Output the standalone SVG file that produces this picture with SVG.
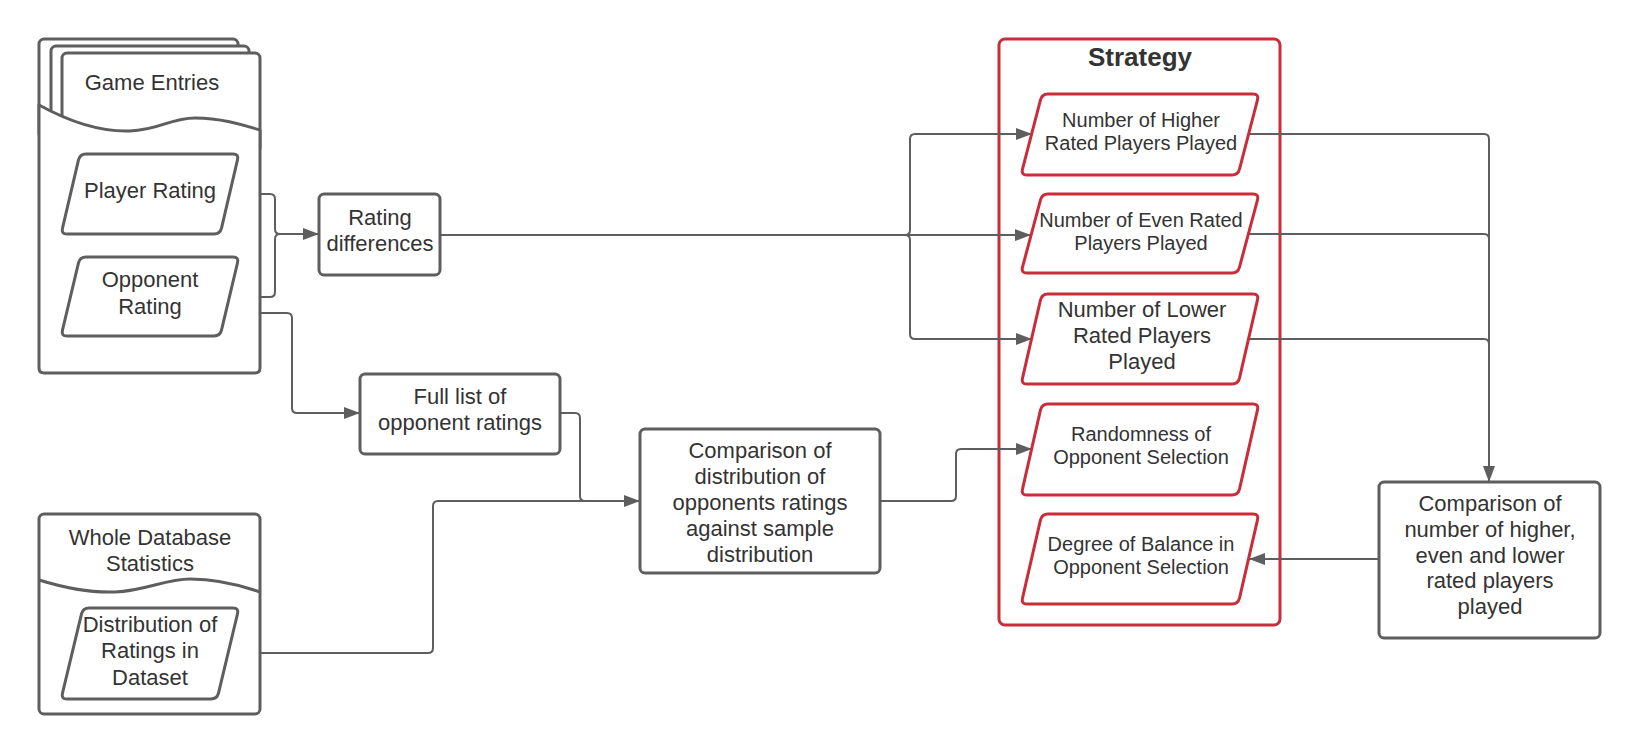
<svg xmlns="http://www.w3.org/2000/svg" width="1640" height="754" viewBox="0 0 1640 754">
<defs>
<style>
.sh{fill:#ffffff;stroke:#5e5e5e;stroke-width:3;stroke-linejoin:round}
.rd{fill:#ffffff;stroke:#c92d39;stroke-width:3;stroke-linejoin:round}
.cn{fill:none;stroke:#5e5e5e;stroke-width:2}
.ar{marker-end:url(#arr)}
text{font-family:"Liberation Sans",Arial,sans-serif;fill:#333333;text-anchor:middle}
.t22{font-size:22px}
.t20{font-size:20px}
.tb{font-size:26px;font-weight:bold}
</style>
<marker id="arr" markerUnits="userSpaceOnUse" markerWidth="16" markerHeight="12" refX="16" refY="6" orient="auto">
<path d="M0,0 L16,6 L0,12 Z" fill="#5e5e5e"/>
</marker>
</defs>
<rect width="1640" height="754" fill="#ffffff"/>

<g id="strategy">
<rect class="rd" x="999" y="39" width="281" height="586" rx="6"/>
<text class="tb" x="1140" y="66">Strategy</text>
</g>

<g id="connectors">
<path class="cn ar" d="M230,194 L270,194 Q275,194 275,199 L275,229 Q275,234 280,234 L319,234"/>
<path class="cn" d="M230,297 L270,297 Q275,297 275,292 L275,239 Q275,234 280,234"/>
<path class="cn ar" d="M226,313 L287,313 Q292,313 292,318 L292,408 Q292,413 297,413 L360,413"/>
<path class="cn ar" d="M560,413 L575,413 Q580,413 580,418 L580,496 Q580,501 585,501 L640,501"/>
<path class="cn" d="M228,653 L428,653 Q433,653 433,648 L433,506 Q433,501 438,501 L600,501"/>
<path class="cn ar" d="M440,235 L1031,235"/>
<path class="cn ar" d="M905,235 Q910,235 910,230 L910,139 Q910,134 915,134 L1032,134"/>
<path class="cn ar" d="M905,235 Q910,235 910,240 L910,334 Q910,339 915,339 L1032,339"/>
<path class="cn ar" d="M880,501 L951,501 Q956,501 956,496 L956,454 Q956,449 961,449 L1032,449"/>
<path class="cn ar" d="M1249,134 L1484,134 Q1489,134 1489,139 L1489,482"/>
<path class="cn" d="M1249,234 L1484,234 Q1489,234 1489,239"/>
<path class="cn" d="M1249,339 L1484,339 Q1489,339 1489,344"/>
<path class="cn ar" d="M1379,559 L1249,559"/>
</g>

<g id="game-entries">
<rect class="sh" x="39" y="39" width="199" height="100" rx="5"/>
<rect class="sh" x="51" y="46" width="198" height="100" rx="5"/>
<rect class="sh" x="62" y="53" width="198" height="100" rx="5"/>
<path class="sh" d="M39,105 C70,122 100,132 130,131 C160,130 170,118 195,118 C220,118 240,124 260,130 L260,368 Q260,373 255,373 L44,373 Q39,373 39,368 Z"/>
<text class="t22" x="152" y="90">Game Entries</text>
</g>

<g id="player-rating">
<path class="sh" d="M86,154 L233,154 Q239,154 237.5,159.8 L221.5,228.2 Q220,234 214,234 L67,234 Q61,234 62.5,228.2 L78.5,159.8 Q80,154 86,154 Z"/>
<text class="t22" x="150" y="198">Player Rating</text>
</g>

<g id="opponent-rating">
<path class="sh" d="M86,257 L233,257 Q239,257 237.5,262.8 L221.5,330.2 Q220,336 214,336 L67,336 Q61,336 62.5,330.2 L78.5,262.8 Q80,257 86,257 Z"/>
<text class="t22" x="150" y="287">Opponent</text>
<text class="t22" x="150" y="314">Rating</text>
</g>

<g id="whole-database">
<rect class="sh" x="39" y="514" width="221" height="200" rx="5"/>
<path class="cn" style="stroke-width:3" d="M39,580 C65,588 90,593 115,592 C145,591 165,579 190,579 C215,579 240,585 260,592"/>
<text class="t22" x="150" y="545">Whole Database</text>
<text class="t22" x="150" y="571">Statistics</text>
</g>

<g id="distribution">
<path class="sh" d="M89,608 L233,608 Q239,608 237.5,613.8 L218.5,693.2 Q217,699 211,699 L67,699 Q61,699 62.5,693.2 L81.5,613.8 Q83,608 89,608 Z"/>
<text class="t22" x="150" y="632">Distribution of</text>
<text class="t22" x="150" y="658">Ratings in</text>
<text class="t22" x="150" y="685">Dataset</text>
</g>

<g id="rating-differences">
<rect class="sh" x="319" y="194" width="121" height="81" rx="5"/>
<text class="t22" x="380" y="225">Rating</text>
<text class="t22" x="380" y="251">differences</text>
</g>

<g id="full-list">
<rect class="sh" x="360" y="374" width="200" height="80" rx="5"/>
<text class="t22" x="460" y="404">Full list of</text>
<text class="t22" x="460" y="430">opponent ratings</text>
</g>

<g id="comparison-distribution">
<rect class="sh" x="640" y="429" width="240" height="144" rx="5"/>
<text class="t22" x="760" y="458">Comparison of</text>
<text class="t22" x="760" y="484">distribution of</text>
<text class="t22" x="760" y="510">opponents ratings</text>
<text class="t22" x="760" y="536">against sample</text>
<text class="t22" x="760" y="562">distribution</text>
</g>

<g id="higher">
<path class="rd" d="M1048,94 L1253,94 Q1259,94 1257.5,99.8 L1239.5,169.2 Q1238,175 1232,175 L1027,175 Q1021,175 1022.5,169.2 L1040.5,99.8 Q1042,94 1048,94 Z"/>
<text class="t20" x="1141" y="127">Number of Higher</text>
<text class="t20" x="1141" y="150">Rated Players Played</text>
</g>

<g id="even">
<path class="rd" d="M1048,194 L1253,194 Q1259,194 1257.5,199.8 L1239.5,267.2 Q1238,273 1232,273 L1027,273 Q1021,273 1022.5,267.2 L1040.5,199.8 Q1042,194 1048,194 Z"/>
<text class="t20" x="1141" y="227">Number of Even Rated</text>
<text class="t20" x="1141" y="250">Players Played</text>
</g>

<g id="lower">
<path class="rd" d="M1048,294 L1253,294 Q1259,294 1257.5,299.8 L1239.5,378.2 Q1238,384 1232,384 L1027,384 Q1021,384 1022.5,378.2 L1040.5,299.8 Q1042,294 1048,294 Z"/>
<text class="t22" x="1142" y="317">Number of Lower</text>
<text class="t22" x="1142" y="343">Rated Players</text>
<text class="t22" x="1142" y="369">Played</text>
</g>

<g id="randomness">
<path class="rd" d="M1048,404 L1253,404 Q1259,404 1257.5,409.8 L1239.5,489.2 Q1238,495 1232,495 L1027,495 Q1021,495 1022.5,489.2 L1040.5,409.8 Q1042,404 1048,404 Z"/>
<text class="t20" x="1141" y="441">Randomness of</text>
<text class="t20" x="1141" y="464">Opponent Selection</text>
</g>

<g id="balance">
<path class="rd" d="M1048,514 L1253,514 Q1259,514 1257.5,519.8 L1239.5,598.2 Q1238,604 1232,604 L1027,604 Q1021,604 1022.5,598.2 L1040.5,519.8 Q1042,514 1048,514 Z"/>
<text class="t20" x="1141" y="551">Degree of Balance in</text>
<text class="t20" x="1141" y="574">Opponent Selection</text>
</g>

<g id="comparison-counts">
<rect class="sh" x="1379" y="482" width="221" height="156" rx="5"/>
<text class="t22" x="1490" y="511">Comparison of</text>
<text class="t22" x="1490" y="537">number of higher,</text>
<text class="t22" x="1490" y="563">even and lower</text>
<text class="t22" x="1490" y="588">rated players</text>
<text class="t22" x="1490" y="614">played</text>
</g>
</svg>
